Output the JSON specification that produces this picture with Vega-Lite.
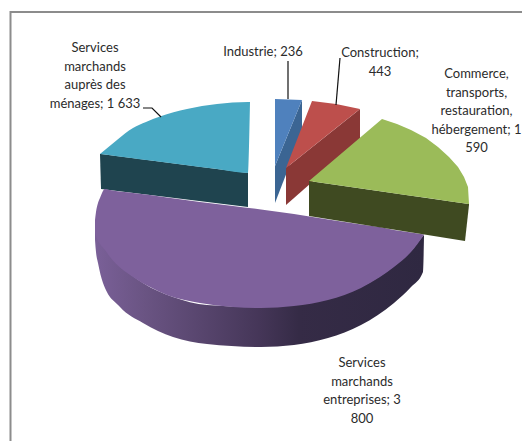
{
"$schema":"https://vega.github.io/schema/vega-lite/v6.json",
"width":522,"height":441,"padding":0,
"autosize":{"type":"none"},
"background":"white",
"config":{"view":{"stroke":null},"text":{"font":"Lato","fontSize":13,"lineHeight":18.6,"lineBreak":"\n","color":"#2b2b2b","align":"center","baseline":"middle"}},
"datasets":{
"secteurs":[
{"secteur":"Industrie","valeur":236,"libelle":"Industrie; 236"},
{"secteur":"Construction","valeur":443,"libelle":"Construction;\n443"},
{"secteur":"Commerce","valeur":1590,"libelle":"Commerce,\ntransports,\nrestauration,\nhébergement; 1\n590"},
{"secteur":"Services entreprises","valeur":3800,"libelle":"Services\nmarchands\nentreprises; 3\n800"},
{"secteur":"Services ménages","valeur":1633,"libelle":"Services\nmarchands\nauprès des\nménages; 1 633"}
],
"faces":[
{"face":"teal side","x":100,"y":154,"y2":154},{"face":"teal side","x":101,"y":154,"y2":189},{"face":"teal side","x":248,"y":173,"y2":207},
{"face":"teal top","x":100,"y":154,"y2":154},{"face":"teal top","x":117,"y":140,"y2":156.2},{"face":"teal top","x":133,"y":128,"y2":158.2},{"face":"teal top","x":146,"y":122,"y2":160},{"face":"teal top","x":160,"y":116.5,"y2":161.7},{"face":"teal top","x":187,"y":109,"y2":165.2},{"face":"teal top","x":217,"y":104,"y2":169},{"face":"teal top","x":248,"y":102,"y2":173},{"face":"teal top","x":250,"y":102,"y2":102},
{"face":"blue side","x":275,"y":166,"y2":203},{"face":"blue side","x":302,"y":100,"y2":133},
{"face":"blue top","x":275,"y":99,"y2":166},{"face":"blue top","x":302,"y":100,"y2":100},
{"face":"red side","x":286,"y":168,"y2":205},{"face":"red side","x":360,"y":109,"y2":140},
{"face":"red top","x":286,"y":168,"y2":168},{"face":"red top","x":312,"y":101,"y2":147.3},{"face":"red top","x":336,"y":104,"y2":128},{"face":"red top","x":360,"y":109,"y2":109},
{"face":"purple top","x":95,"y":220,"y2":233},{"face":"purple top","x":96,"y":212,"y2":236},{"face":"purple top","x":98,"y":203,"y2":241},{"face":"purple top","x":100,"y":198,"y2":244},{"face":"purple top","x":105,"y":189,"y2":250},{"face":"purple top","x":110,"y":190,"y2":257},{"face":"purple top","x":133,"y":193,"y2":277},{"face":"purple top","x":150,"y":195,"y2":287},{"face":"purple top","x":167,"y":197.5,"y2":295},{"face":"purple top","x":200,"y":202,"y2":303},{"face":"purple top","x":233,"y":206,"y2":307},{"face":"purple top","x":261,"y":209.5,"y2":308},{"face":"purple top","x":294,"y":214,"y2":306},{"face":"purple top","x":328,"y":219.5,"y2":300},{"face":"purple top","x":361,"y":224.5,"y2":288},{"face":"purple top","x":380,"y":227,"y2":277},{"face":"purple top","x":394,"y":230,"y2":267},{"face":"purple top","x":411,"y":232.5,"y2":252},{"face":"purple top","x":424,"y":234.5,"y2":235},
{"face":"green side","x":309,"y":181,"y2":216},{"face":"green side","x":465,"y":203.4,"y2":241},{"face":"green side","x":469,"y":204,"y2":205},
{"face":"green top","x":309,"y":181,"y2":181},{"face":"green top","x":382,"y":119,"y2":191.5},{"face":"green top","x":397,"y":124,"y2":193.7},{"face":"green top","x":411,"y":130,"y2":195.7},{"face":"green top","x":426,"y":138,"y2":197.8},{"face":"green top","x":438,"y":147,"y2":199.6},{"face":"green top","x":449,"y":157,"y2":201.2},{"face":"green top","x":458,"y":167,"y2":202.4},{"face":"green top","x":464,"y":177,"y2":203.3},{"face":"green top","x":468,"y":187,"y2":203.9},{"face":"green top","x":469,"y":204,"y2":204}
],
"cote":[
{"face":"purple side","x":95,"y":228,"y2":240},{"face":"purple side","x":96,"y":232,"y2":252},{"face":"purple side","x":98,"y":236,"y2":263},{"face":"purple side","x":103,"y":245,"y2":283},{"face":"purple side","x":120,"y":265,"y2":307},{"face":"purple side","x":143,"y":283,"y2":323},{"face":"purple side","x":173,"y":297,"y2":337},{"face":"purple side","x":207,"y":305,"y2":344},{"face":"purple side","x":261,"y":307,"y2":347},{"face":"purple side","x":294,"y":305,"y2":345},{"face":"purple side","x":328,"y":299,"y2":338},{"face":"purple side","x":361,"y":287,"y2":325},{"face":"purple side","x":394,"y":266,"y2":303},{"face":"purple side","x":411,"y":251,"y2":287},{"face":"purple side","x":423,"y":236,"y2":272},{"face":"purple side","x":424,"y":235,"y2":237}
],
"traits":[
{"trait":"frame","ordre":1,"x":10.5,"y":441},{"trait":"frame","ordre":2,"x":10.5,"y":12},{"trait":"frame","ordre":3,"x":522,"y":12},
{"trait":"Services ménages","ordre":1,"x":143,"y":108},{"trait":"Services ménages","ordre":2,"x":152,"y":108},{"trait":"Services ménages","ordre":3,"x":161,"y":117},
{"trait":"Industrie","ordre":1,"x":288,"y":61},{"trait":"Industrie","ordre":2,"x":288,"y":99},
{"trait":"Construction","ordre":1,"x":340,"y":58},{"trait":"Construction","ordre":2,"x":336,"y":105}
]
},
"encoding":{
"x":{"type":"quantitative","scale":{"domain":[0,522],"nice":false,"zero":false},"axis":null},
"y":{"type":"quantitative","scale":{"domain":[441,0],"nice":false,"zero":false},"axis":null}
},
"layer":[
{"data":{"name":"traits"},"transform":[{"filter":"datum.trait==='frame'"}],"mark":{"type":"line","stroke":"#8c8c8c","strokeWidth":2},"encoding":{"x":{"field":"x","type":"quantitative"},"y":{"field":"y","type":"quantitative"},"order":{"field":"ordre"}}},
{"data":{"name":"faces"},"transform":[{"filter":"indexof(['teal side','blue side','blue top','red side','red top'],datum.face)>=0"}],"mark":{"type":"area"},"encoding":{"x":{"field":"x","type":"quantitative"},"y":{"field":"y","type":"quantitative"},"y2":{"field":"y2"},"color":{"field":"face","type":"nominal","legend":null,"scale":{"domain":["teal side","teal top","blue side","blue top","red side","red top","purple top","green side","green top"],"range":["#1f444f","#49a9c4","#3b6593","#4f81bd","#8a3836","#bd4f4c","#7e619c","#3f4a21","#9bbb59"]}}}},
{"data":{"name":"faces"},"transform":[{"filter":"datum.face==='teal top'"}],"mark":{"type":"area","interpolate":"monotone"},"encoding":{"x":{"field":"x","type":"quantitative"},"y":{"field":"y","type":"quantitative"},"y2":{"field":"y2"},"color":{"field":"face","type":"nominal","legend":null,"scale":{"domain":["teal side","teal top","blue side","blue top","red side","red top","purple top","green side","green top"],"range":["#1f444f","#49a9c4","#3b6593","#4f81bd","#8a3836","#bd4f4c","#7e619c","#3f4a21","#9bbb59"]}}}},
{"data":{"name":"cote"},"mark":{"type":"area","interpolate":"monotone","color":{"gradient":"linear","x1":0,"y1":0,"x2":1,"y2":0,"stops":[{"offset":0,"color":"#7a6098"},{"offset":0.15,"color":"#6a5483"},{"offset":0.5,"color":"#453658"},{"offset":0.62,"color":"#352b46"},{"offset":1,"color":"#2f2841"}]}},"encoding":{"x":{"field":"x","type":"quantitative"},"y":{"field":"y","type":"quantitative"},"y2":{"field":"y2"}}},
{"data":{"name":"faces"},"transform":[{"filter":"datum.face==='purple top'"}],"mark":{"type":"area","interpolate":"monotone"},"encoding":{"x":{"field":"x","type":"quantitative"},"y":{"field":"y","type":"quantitative"},"y2":{"field":"y2"},"color":{"field":"face","type":"nominal","legend":null,"scale":{"domain":["teal side","teal top","blue side","blue top","red side","red top","purple top","green side","green top"],"range":["#1f444f","#49a9c4","#3b6593","#4f81bd","#8a3836","#bd4f4c","#7e619c","#3f4a21","#9bbb59"]}}}},
{"data":{"name":"faces"},"transform":[{"filter":"indexof(['green side','green top'],datum.face)>=0"}],"mark":{"type":"area"},"encoding":{"x":{"field":"x","type":"quantitative"},"y":{"field":"y","type":"quantitative"},"y2":{"field":"y2"},"color":{"field":"face","type":"nominal","legend":null,"scale":{"domain":["teal side","teal top","blue side","blue top","red side","red top","purple top","green side","green top"],"range":["#1f444f","#49a9c4","#3b6593","#4f81bd","#8a3836","#bd4f4c","#7e619c","#3f4a21","#9bbb59"]}}}},
{"data":{"name":"traits"},"transform":[{"filter":"datum.trait!=='frame'"}],"mark":{"type":"line","stroke":"#111111","strokeWidth":1.2},"encoding":{"x":{"field":"x","type":"quantitative"},"y":{"field":"y","type":"quantitative"},"detail":{"field":"trait"},"order":{"field":"ordre"}}},
{"data":{"name":"secteurs"},"transform":[{"filter":"datum.secteur==='Industrie'"}],"mark":"text","encoding":{"x":{"datum":263},"y":{"datum":52},"text":{"field":"libelle"}}},
{"data":{"name":"secteurs"},"transform":[{"filter":"datum.secteur==='Construction'"}],"mark":"text","encoding":{"x":{"datum":380},"y":{"datum":53},"text":{"field":"libelle"}}},
{"data":{"name":"secteurs"},"transform":[{"filter":"datum.secteur==='Commerce'"}],"mark":"text","encoding":{"x":{"datum":476.5},"y":{"datum":74},"text":{"field":"libelle"}}},
{"data":{"name":"secteurs"},"transform":[{"filter":"datum.secteur==='Services entreprises'"}],"mark":"text","encoding":{"x":{"datum":362},"y":{"datum":363},"text":{"field":"libelle"}}},
{"data":{"name":"secteurs"},"transform":[{"filter":"datum.secteur==='Services ménages'"}],"mark":"text","encoding":{"x":{"datum":95},"y":{"datum":48},"text":{"field":"libelle"}}}
]
}
